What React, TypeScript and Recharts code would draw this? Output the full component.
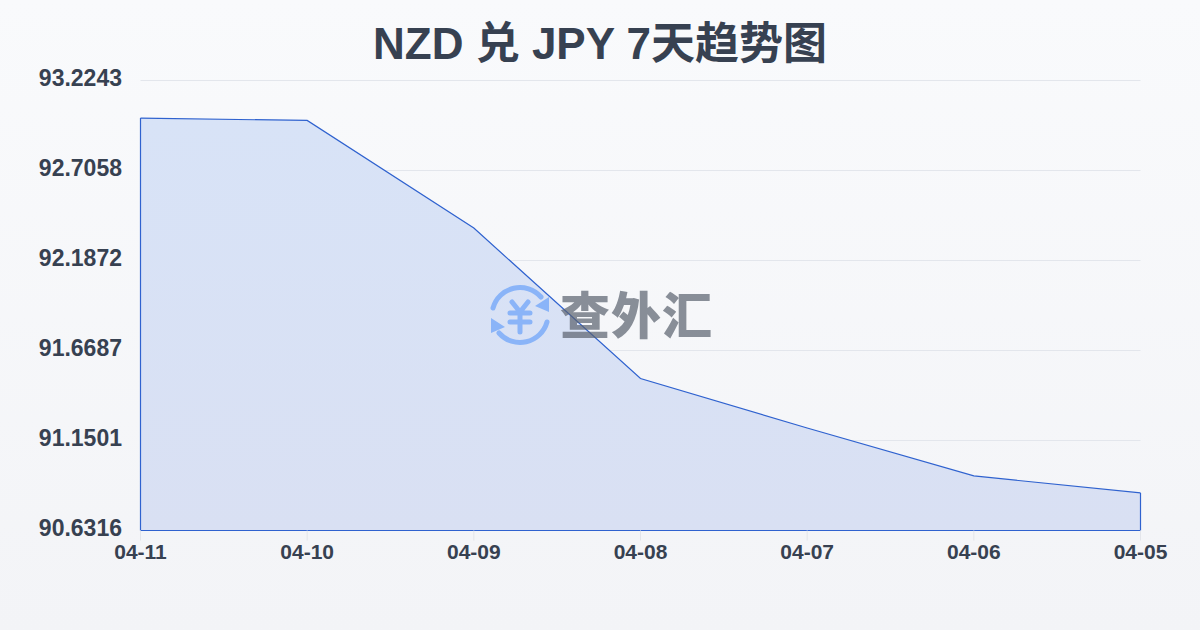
import React from "react";
import { AreaChart, Area, XAxis, YAxis, CartesianGrid, ReferenceLine } from "recharts";

const dates = ["04-11", "04-10", "04-09", "04-08", "04-07", "04-06", "04-05"];
const rates = [93.008, 92.994, 92.374, 91.507, 91.222, 90.946, 90.848];
const yTicks = [90.6316, 91.1501, 91.6687, 92.1872, 92.7058, 93.2243];
const data = dates.map((date, i) => ({ date, rate: rates[i] }));

const FONT = '"Liberation Sans", "Noto Sans CJK SC", sans-serif';
const LINE = "#2f62cf";

const YTick = (props: any) => (
  <text x={122} y={props.y - 1} textAnchor="end" dominantBaseline="middle" fontSize={23} fontWeight={700} fontFamily={FONT} fill="#374151">
    {props.payload.value.toFixed(4)}
  </text>
);

const XTick = (props: any) => (
  <text x={props.x} y={props.y + 11} textAnchor="middle" dominantBaseline="middle" fontSize={21} fontWeight={700} fontFamily={FONT} fill="#374151">
    {props.payload.value}
  </text>
);

export default function App() {
  return (
    <div style={{ position: "fixed", left: 0, top: 0, width: 1200, height: 630, overflow: "hidden", background: "linear-gradient(180deg,#f9fafc 0%,#f3f4f7 100%)" }}>
      <div style={{ position: "absolute", left: 0, top: 16, width: 1200, textAlign: "center", fontFamily: FONT, fontWeight: 700, fontSize: 44, lineHeight: "56px", color: "#374151" }}>
        NZD 兑 JPY 7天趋势图
      </div>
      <div style={{ position: "absolute", left: 0, top: 0 }}>
        <AreaChart width={1200} height={630} data={data} margin={{ top: 80.5, right: 59.5, bottom: 69.5, left: 60.5 }}>
          <defs>
            <linearGradient id="fill" x1="0" y1="0" x2="0" y2="1">
              <stop offset="0%" stopColor="#d8e3f7" />
              <stop offset="100%" stopColor="#d9e0f3" />
            </linearGradient>
          </defs>
          <CartesianGrid vertical={false} stroke="#e3e6ec" strokeWidth={1} />
          <XAxis dataKey="date" interval={0} height={30} axisLine={false} tickLine={{ stroke: "#e3e5ea" }} tickSize={10} tick={<XTick />} scale="point" />
          <YAxis domain={[yTicks[0], yTicks[yTicks.length - 1]]} ticks={yTicks} axisLine={false} tickLine={false} width={80} tick={<YTick />} interval={0} />
          <Area type="linear" dataKey="rate" stroke={LINE} strokeWidth={1.2} fill="url(#fill)" fillOpacity={1} isAnimationActive={false} dot={false} activeDot={false} />
          <ReferenceLine stroke={LINE} strokeWidth={1.2} segment={[{ x: dates[0], y: yTicks[0] }, { x: dates[0], y: rates[0] }]} />
          <ReferenceLine stroke={LINE} strokeWidth={1.2} segment={[{ x: dates[6], y: yTicks[0] }, { x: dates[6], y: rates[6] }]} />
          <ReferenceLine y={yTicks[0]} stroke={LINE} strokeWidth={1.2} />
        </AreaChart>
      </div>
      <svg width={70} height={70} viewBox="0 0 70 70" style={{ position: "absolute", left: 485, top: 280 }}>
        <g fill="none" stroke="#8ab4f8" strokeWidth={5} strokeLinecap="round">
          <path d="M8 28 A28 28 0 0 1 56 17" />
          <path d="M62 42 A28 28 0 0 1 14 53" />
          <path d="M27 22 L35 32 L43 22 M25 33 H45 M25 42 H45 M35 32 V52" strokeLinejoin="round" />
        </g>
        <path d="M64 17 L64 32 L50 26 Z M6 38 L6 53 L20 47 Z" fill="#8ab4f8" />
      </svg>
      <div style={{ position: "absolute", left: 560, top: 282, fontFamily: '"Noto Sans CJK SC", sans-serif', fontWeight: 900, fontSize: 50, lineHeight: "60px", letterSpacing: 1, color: "rgba(90,97,110,0.7)" }}>
        查外汇
      </div>
    </div>
  );
}
